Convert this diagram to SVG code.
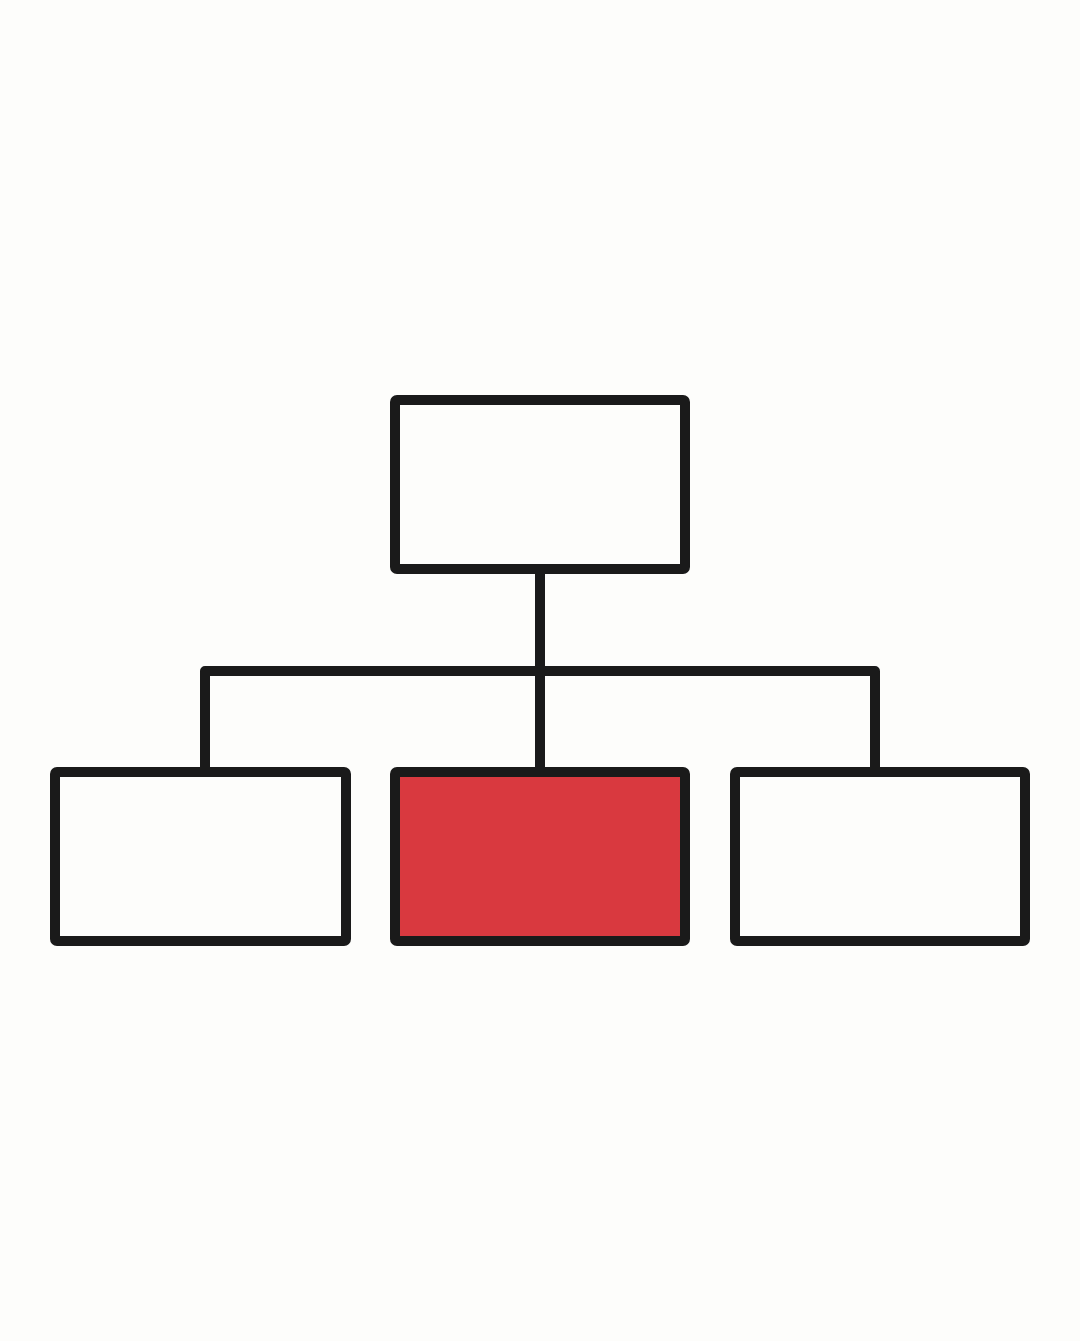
<svg xmlns="http://www.w3.org/2000/svg" width="1080" height="1341" viewBox="0 0 1080 1341">
<style>
.box{fill:#fdfdfb;stroke:#1a1a1a;stroke-width:10;stroke-linejoin:round}
.hl{fill:#d9393f}
.wire{fill:none;stroke:#1a1a1a;stroke-width:10;stroke-linejoin:round;stroke-linecap:butt}
</style>
<rect width="1080" height="1341" fill="#fdfdfb"/>
<g id="connectors">
<path class="wire" d="M540 569V772"/>
<path class="wire" d="M205 772V671H875V772"/>
</g>
<g id="top"><rect class="box" x="395" y="400" width="290" height="169" rx="2"/></g>
<g id="left"><rect class="box" x="55" y="772" width="291" height="169" rx="2"/></g>
<g id="middle"><rect class="box hl" x="395" y="772" width="290" height="169" rx="2"/></g>
<g id="right"><rect class="box" x="735" y="772" width="290" height="169" rx="2"/></g>
</svg>
